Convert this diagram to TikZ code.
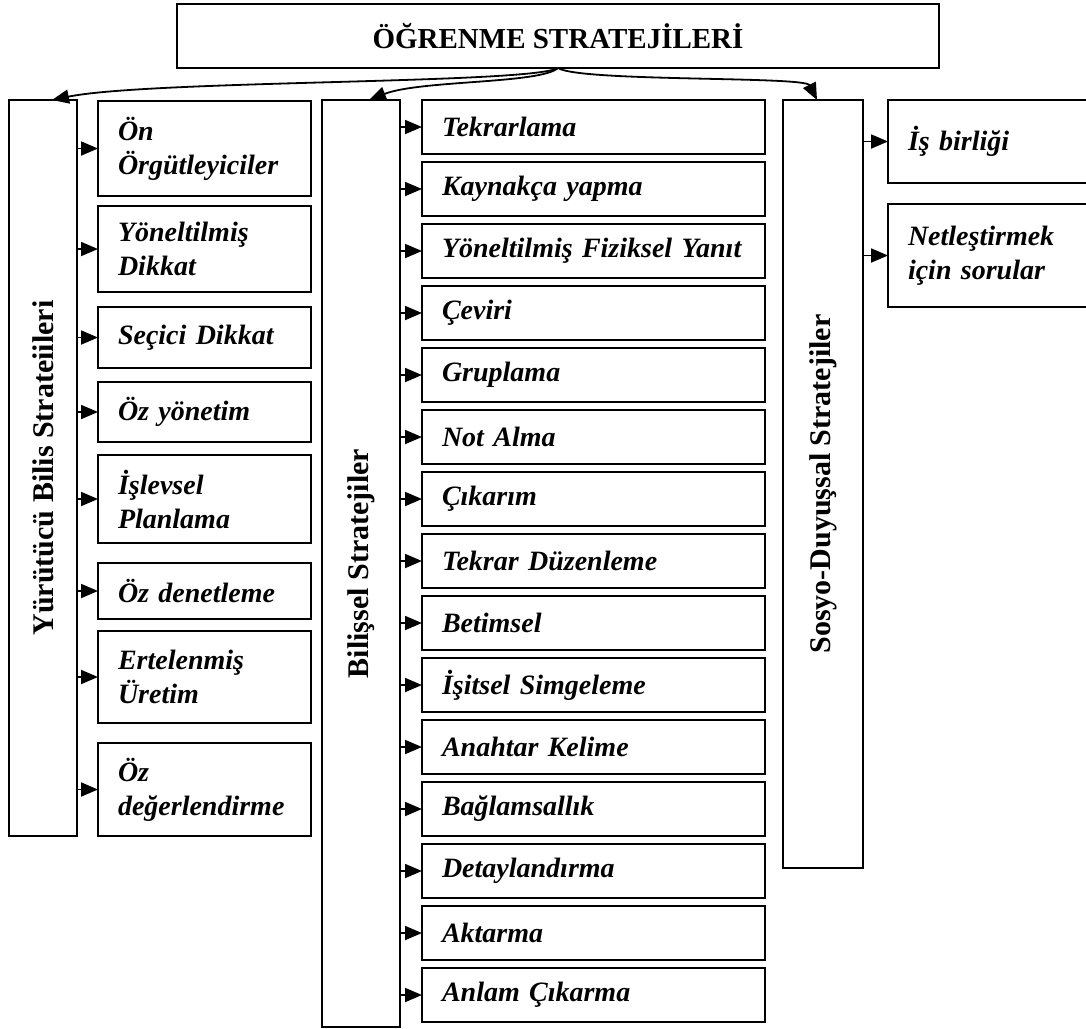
\documentclass[tikz,border=0pt]{standalone}
\usepackage{fontspec}
\setmainfont{Liberation Serif}
\usetikzlibrary{arrows.meta, positioning, calc}
\tikzset{
  head/.style = {
    draw, line width=0.9pt, minimum width=381pt, minimum height=32pt, inner sep=0pt, outer sep=0pt,
    font=\fontsize{14.5}{17}\selectfont\bfseries
  },
  column/.style = {draw, line width=0.9pt, inner sep=0pt, outer sep=0pt},
  coltext/.style = {rotate=90, inner sep=0pt, font=\fontsize{15}{18}\selectfont\bfseries},
  item/.style = {
    draw, line width=0.9pt, align=left, inner xsep=10pt, inner ysep=0pt, outer sep=0pt,
    font=\fontsize{14}{17}\selectfont\bfseries\itshape
  },
  leftitem/.style = {item, text width=86.5pt},
  miditem/.style = {item, text width=151.5pt, minimum height=27pt},
  rightitem/.style = {item, text width=82pt},
  arrow/.style = {-{Triangle[length=8.5pt, width=7pt]}, line width=0.9pt},
}

\begin{document}
\begin{tikzpicture}[x=0.5pt, y=-0.5pt]
    \useasboundingbox (0,0) rectangle (1086,1028);

    % Title box
    \node[head] (learn) at (558,36) {ÖĞRENME STRATEJİLERİ};

    % The three main columns, text turned upright
    \node[column, minimum width=34pt, minimum height=368pt,
      label={[coltext]center:Yürütücü Bilis Strateiileri}] (yur) at (43,468) {};
    \node[column, minimum width=39pt, minimum height=463.5pt,
      label={[coltext]center:Bilişsel Stratejiler}] (bil) at (361,563.5) {};
    \node[column, minimum width=40pt, minimum height=384pt,
      label={[coltext]center:Sosyo-Duyuşsal Stratejiler}] (sos) at (823,484) {};

    % Left column items
    \node[leftitem, minimum height=47.5pt, anchor=north] (onorg) at (204.5,101) {Ön\\Örgütleyiciler};
    \node[leftitem, minimum height=43pt, below=5pt of onorg] (yondik) {Yöneltilmiş\\Dikkat};
    \node[leftitem, minimum height=30.5pt, below=7.5pt of yondik] (secdik) {Seçici Dikkat};
    \node[leftitem, minimum height=30pt, below=7pt of secdik] (ozyon) {Öz yönetim};
    \node[leftitem, minimum height=44pt, below=6.5pt of ozyon] (islev) {İşlevsel\\Planlama};
    \node[leftitem, minimum height=28pt, below=10pt of islev] (ozden) {Öz denetleme};
    \node[leftitem, minimum height=46pt, below=6pt of ozden] (erte) {Ertelenmiş\\Üretim};
    \node[leftitem, minimum height=46.5pt, below=10pt of erte] (ozdeg) {Öz\\değerlendirme};

    % Middle column items
    \node[miditem, anchor=north] (tekr) at (593.5,100) {Tekrarlama};
    \node[miditem, below=4pt of tekr] (kayn) {Kaynakça yapma};
    \node[miditem, below=4pt of kayn] (fizik) {Yöneltilmiş Fiziksel Yanıt};
    \node[miditem, below=4pt of fizik] (ceviri) {Çeviri};
    \node[miditem, below=4pt of ceviri] (grup) {Gruplama};
    \node[miditem, below=4pt of grup] (notal) {Not Alma};
    \node[miditem, below=4pt of notal] (cikar) {Çıkarım};
    \node[miditem, below=4pt of cikar] (duzen) {Tekrar Düzenleme};
    \node[miditem, below=4pt of duzen] (betim) {Betimsel};
    \node[miditem, below=4pt of betim] (isit) {İşitsel Simgeleme};
    \node[miditem, below=4pt of isit] (anah) {Anahtar Kelime};
    \node[miditem, below=4pt of anah] (bagl) {Bağlamsallık};
    \node[miditem, below=4pt of bagl] (detay) {Detaylandırma};
    \node[miditem, below=4pt of detay] (aktar) {Aktarma};
    \node[miditem, below=4pt of aktar] (anlam) {Anlam Çıkarma};

    % Right column items
    \node[rightitem, minimum height=41.5pt, anchor=north] (isbir) at (990,100) {İş birliği};
    \node[rightitem, minimum height=51.5pt, below=10.5pt of isbir] (netl) {Netleştirmek\\için sorular};

    % Curved arrows from the title
    \draw[arrow] (learn.south) .. controls (530,84) and (150,80) .. ($(yur.north)+(9,0)$);
    \draw[arrow] (learn.south) .. controls (540,84) and (420,80) .. ($(bil.north)+(8,0)$);
    \draw[arrow] (learn.south) .. controls (580,82) and (805,76) .. ($(sos.north)+(-6,0)$);

    % Left arrows
    \draw[arrow] (yur.east |- onorg.west) -- (onorg.west);
    \draw[arrow] (yur.east |- yondik.west) -- (yondik.west);
    \draw[arrow] (yur.east |- secdik.west) -- (secdik.west);
    \draw[arrow] (yur.east |- ozyon.west) -- (ozyon.west);
    \draw[arrow] (yur.east |- islev.west) -- (islev.west);
    \draw[arrow] (yur.east |- ozden.west) -- (ozden.west);
    \draw[arrow] (yur.east |- erte.west) -- (erte.west);
    \draw[arrow] (yur.east |- ozdeg.west) -- (ozdeg.west);

    % Middle arrows
    \draw[arrow] (bil.east |- tekr.west) -- (tekr.west);
    \draw[arrow] (bil.east |- kayn.west) -- (kayn.west);
    \draw[arrow] (bil.east |- fizik.west) -- (fizik.west);
    \draw[arrow] (bil.east |- ceviri.west) -- (ceviri.west);
    \draw[arrow] (bil.east |- grup.west) -- (grup.west);
    \draw[arrow] (bil.east |- notal.west) -- (notal.west);
    \draw[arrow] (bil.east |- cikar.west) -- (cikar.west);
    \draw[arrow] (bil.east |- duzen.west) -- (duzen.west);
    \draw[arrow] (bil.east |- betim.west) -- (betim.west);
    \draw[arrow] (bil.east |- isit.west) -- (isit.west);
    \draw[arrow] (bil.east |- anah.west) -- (anah.west);
    \draw[arrow] (bil.east |- bagl.west) -- (bagl.west);
    \draw[arrow] (bil.east |- detay.west) -- (detay.west);
    \draw[arrow] (bil.east |- aktar.west) -- (aktar.west);
    \draw[arrow] (bil.east |- anlam.west) -- (anlam.west);

    % Right arrows
    \draw[arrow] (sos.east |- isbir.west) -- (isbir.west);
    \draw[arrow] (sos.east |- netl.west) -- (netl.west);

\end{tikzpicture}
\end{document}
